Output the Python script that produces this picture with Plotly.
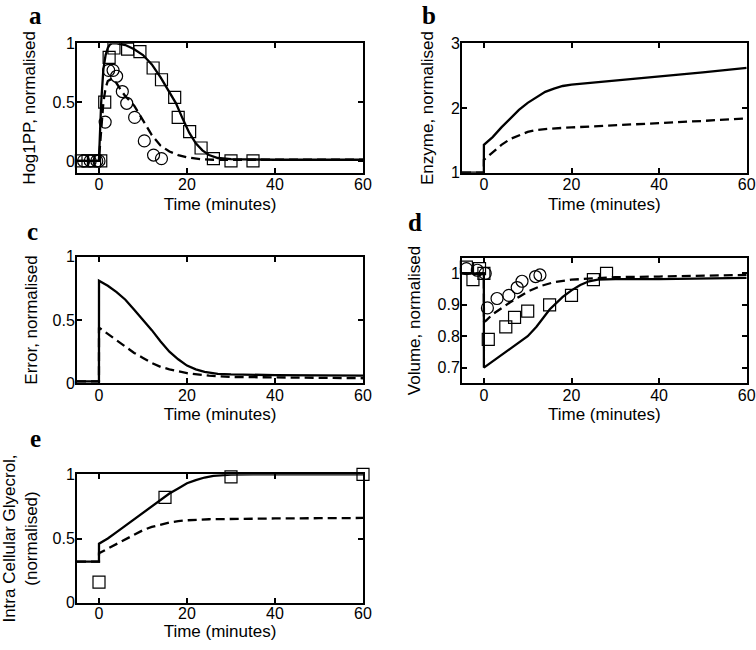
import plotly.graph_objects as go

# ---------------- data ----------------
# Panel a: Hog1PP
a_sim_t = [-5, -0.01, 0, 0.25, 0.5, 1, 1.5, 2, 2.5, 3, 4, 6, 8, 10, 12, 14, 16, 17.5, 19, 20.5, 22, 23.5, 25, 27, 30, 35, 40, 50, 60]
a_sim_y = [0, 0, 0.02, 0.3, 0.5, 0.78, 0.9, 0.96, 0.99, 1.0, 1.0, 0.985, 0.95, 0.9, 0.82, 0.71, 0.59, 0.49, 0.36, 0.24, 0.15, 0.09, 0.05, 0.025, 0.015, 0.01, 0.01, 0.01, 0.01]
a_mut_t = [-5, -0.01, 0, 0.5, 1, 1.5, 2, 3, 4, 5, 6, 8, 10, 12, 14, 16, 18, 20, 23, 26, 30, 40, 60]
a_mut_y = [0, 0, 0.02, 0.3, 0.5, 0.62, 0.68, 0.7, 0.66, 0.6, 0.55, 0.47, 0.34, 0.22, 0.13, 0.08, 0.05, 0.03, 0.015, 0.01, 0.01, 0.01, 0.01]
a_sq_t = [-4, -2.5, -1, 0.4, 1.3, 2.3, 3.4, 6.5, 9.3, 12.3, 14.2, 17.2, 18, 20.6, 23.2, 26, 30, 35]
a_sq_y = [0, 0, 0, 0, 0.5, 0.88, 0.96, 0.95, 0.93, 0.79, 0.69, 0.54, 0.37, 0.25, 0.11, 0.02, 0.0, 0.0]
a_ci_t = [-3.5, -2, -0.5, 0, 1.4, 2.2, 3.2, 4.0, 5.3, 6.3, 8.1, 10.3, 12.4, 14.2]
a_ci_y = [0, 0, 0, 0, 0.33, 0.77, 0.77, 0.72, 0.59, 0.49, 0.37, 0.17, 0.05, 0.02]

# Panel b: Enzyme
b_sim_t = [-5, -0.01, 0, 2, 4, 6, 8, 10, 12, 14, 16, 18, 20, 25, 30, 40, 50, 60]
b_sim_y = [1, 1, 1.43, 1.55, 1.7, 1.84, 1.97, 2.08, 2.17, 2.25, 2.3, 2.34, 2.36, 2.39, 2.42, 2.48, 2.55, 2.62]
b_mut_t = [-5, -0.01, 0, 2, 4, 6, 8, 10, 12, 15, 20, 30, 40, 50, 60]
b_mut_y = [1, 1, 1.2, 1.32, 1.43, 1.52, 1.58, 1.63, 1.66, 1.68, 1.70, 1.73, 1.76, 1.8, 1.84]

# Panel c: Error
c_sim_t = [-5, -0.01, 0, 2, 4, 6, 8, 10, 12, 14, 16, 18, 20, 22, 24, 27, 30, 40, 50, 60]
c_sim_y = [0.015, 0.015, 0.81, 0.77, 0.72, 0.66, 0.58, 0.5, 0.42, 0.33, 0.25, 0.19, 0.14, 0.11, 0.09, 0.075, 0.07, 0.065, 0.06, 0.06]
c_mut_t = [-5, -0.01, 0, 2, 4, 6, 8, 10, 12, 14, 16, 20, 25, 30, 40, 60]
c_mut_y = [0.015, 0.015, 0.44, 0.39, 0.34, 0.29, 0.24, 0.2, 0.16, 0.13, 0.11, 0.08, 0.06, 0.05, 0.045, 0.04]

# Panel d: Volume
d_sim_t = [-5, -0.01, 0, 2, 5, 8, 10, 12, 15, 18, 20, 22, 24, 26, 30, 40, 50, 60]
d_sim_y = [1.0, 1.0, 0.70, 0.72, 0.75, 0.78, 0.80, 0.83, 0.885, 0.925, 0.946, 0.963, 0.975, 0.98, 0.982, 0.982, 0.984, 0.986]
d_mut_t = [-5, -0.01, 0.01, 0.5, 2, 4, 6, 8, 10, 13, 16, 20, 25, 30, 40, 50, 60]
d_mut_y = [1.0, 1.0, 0.845, 0.85, 0.87, 0.89, 0.908, 0.925, 0.942, 0.96, 0.972, 0.98, 0.985, 0.988, 0.99, 0.992, 0.995]
d_sq_t = [-4, -2.5, -1, 0, 1, 5, 7, 10, 15, 20, 25, 28]
d_sq_y = [1.02, 0.98, 1.015, 1.0, 0.79, 0.83, 0.86, 0.88, 0.90, 0.93, 0.98, 1.0]
d_ci_t = [-4, -1.5, 0.3, 0.8, 3, 5.7, 7.6, 8.7, 11.8, 12.8]
d_ci_y = [1.015, 1.01, 1.0, 0.89, 0.92, 0.93, 0.955, 0.975, 0.99, 0.995]

# Panel e: Intracellular glycerol
e_sim_t = [-5, -0.01, 0, 2, 4, 6, 8, 10, 12, 14, 16, 18, 20, 22, 24, 26, 28, 30, 35, 40, 60]
e_sim_y = [0.32, 0.32, 0.46, 0.5, 0.55, 0.6, 0.65, 0.7, 0.75, 0.8, 0.85, 0.89, 0.93, 0.955, 0.975, 0.988, 0.995, 0.998, 1.0, 1.0, 1.0]
e_mut_t = [-5, -0.01, 0, 2, 4, 6, 8, 10, 12, 14, 16, 18, 20, 25, 30, 40, 50, 60]
e_mut_y = [0.32, 0.32, 0.385, 0.42, 0.457, 0.49, 0.53, 0.565, 0.59, 0.61, 0.625, 0.635, 0.642, 0.65, 0.653, 0.656, 0.658, 0.66]
e_sq_t = [0, 15, 30, 60]
e_sq_y = [0.16, 0.82, 0.98, 1.0]

x_ticks = [0, 20, 40, 60]
x_title = "Time (minutes)"

# ---------------- layout geometry (pixels) ----------------
W, H = 756, 650
def xd(x0, x1):
    return [x0 / W, x1 / W]
def yd(top, bottom):
    return [1 - bottom / H, 1 - top / H]

panels = [
    # name, xdomain, ydomain, yrange, yticks, ytitle, y-title standoff, x-title standoff, x label standoff
    ("a", xd(77, 363), yd(43.3, 172.7), [-0.1, 1], [0, 0.5, 1], "Hog1PP, normalised", 13, 6, -4),
    ("b", xd(462, 746.7), yd(43.3, 172.7), [1, 3], [1, 2, 3], "Enzyme, normalised", 13, 6, -4),
    ("c", xd(77, 363), yd(256.7, 383.3), [0, 1], [0, 0.5, 1], "Error, normalised", 11, 6, -4),
    ("d", xd(462, 746.7), yd(257.7, 383.3), [0.65, 1.05], [0.7, 0.8, 0.9, 1], "Volume, normalised", 13, 6, -4),
    ("e", xd(77, 363), yd(474.3, 602.7), [0, 1], [0, 0.5, 1], "Intra Cellular Glyecrol,<br>(normalised)", 15, 0, -5),
]

FONT = "Liberation Sans, Arial, Helvetica, sans-serif"
fig = go.Figure()

line_solid = dict(color="black", width=2.3)
line_dash = dict(color="black", width=2.3, dash="9px,5px")
sq_marker = dict(symbol="square-open", size=12, color="black", line=dict(width=1.2, color="black"))
ci_marker = dict(symbol="circle-open", size=12, color="black", line=dict(width=1.2, color="black"))

series = {
    "a": [(a_mut_t, a_mut_y, "dash"), (a_sim_t, a_sim_y, "solid"), (a_sq_t, a_sq_y, "sq"), (a_ci_t, a_ci_y, "ci")],
    "b": [(b_mut_t, b_mut_y, "dash"), (b_sim_t, b_sim_y, "solid")],
    "c": [(c_mut_t, c_mut_y, "dash"), (c_sim_t, c_sim_y, "solid")],
    "d": [(d_mut_t, d_mut_y, "dash"), (d_sim_t, d_sim_y, "solid"), (d_sq_t, d_sq_y, "sq"), (d_ci_t, d_ci_y, "ci")],
    "e": [(e_mut_t, e_mut_y, "dash"), (e_sim_t, e_sim_y, "solid"), (e_sq_t, e_sq_y, "sq")],
}

layout_axes = {}
for i, (name, xdom, ydom, yr, yt, ytitle, so_y, so_x, lso_x) in enumerate(panels):
    n = "" if i == 0 else str(i + 1)
    xa, ya = "x" + n, "y" + n
    for t, y, kind in series[name]:
        if kind == "solid":
            tr = go.Scatter(x=t, y=y, mode="lines", line=line_solid)
        elif kind == "dash":
            tr = go.Scatter(x=t, y=y, mode="lines", line=line_dash)
        elif kind == "sq":
            tr = go.Scatter(x=t, y=y, mode="markers", marker=sq_marker, cliponaxis=False)
        else:
            tr = go.Scatter(x=t, y=y, mode="markers", marker=ci_marker, cliponaxis=False)
        tr.update(xaxis=xa, yaxis=ya, showlegend=False, hoverinfo="skip")
        fig.add_trace(tr)
    common = dict(showline=True, linecolor="#000000", linewidth=2, mirror="ticks",
                  ticks="inside", ticklen=5, tickwidth=1.5, tickcolor="#000000",
                  showgrid=False, zeroline=False, automargin=False, layer="above traces",
                  ticklabeloverflow="allow",
                  tickfont=dict(family=FONT, size=16, color="black"))
    layout_axes["xaxis" + n] = dict(common, domain=xdom, range=[-5, 60], tickvals=x_ticks,
                                     anchor=ya, ticklabelstandoff=lso_x,
                                     title=dict(text=x_title, font=dict(family=FONT, size=17, color="black"), standoff=so_x))
    layout_axes["yaxis" + n] = dict(common, domain=ydom, range=yr, tickvals=yt,
                                     anchor=xa, ticklabelstandoff=-3,
                                     title=dict(text=ytitle, font=dict(family=FONT, size=17, color="black"), standoff=so_y))

fig.update_layout(template="none")
fig.update_layout(**layout_axes)

# panel letters (x centre, y in px, anchor)
letters = [("a", 35, 0, "top"), ("b", 429, 0, "top"), ("c", 32.5, 231.5, "middle"),
           ("d", 415, 222, "middle"), ("e", 35, 438.5, "middle")]
for txt, px, py, anc in letters:
    fig.add_annotation(text="<b>" + txt + "</b>", x=px / W, y=1 - py / H,
                       xref="paper", yref="paper",
                       xanchor="center", yanchor=anc, showarrow=False,
                       font=dict(family="Liberation Serif, Times New Roman, serif", size=25, color="black"))

fig.update_layout(width=W, height=H, margin=dict(l=0, r=0, t=0, b=0),
                  paper_bgcolor="white", plot_bgcolor="white", showlegend=False)

fig.write_html("out.html", config={"displayModeBar": False},
               post_script="document.body.style.margin='0px';")
